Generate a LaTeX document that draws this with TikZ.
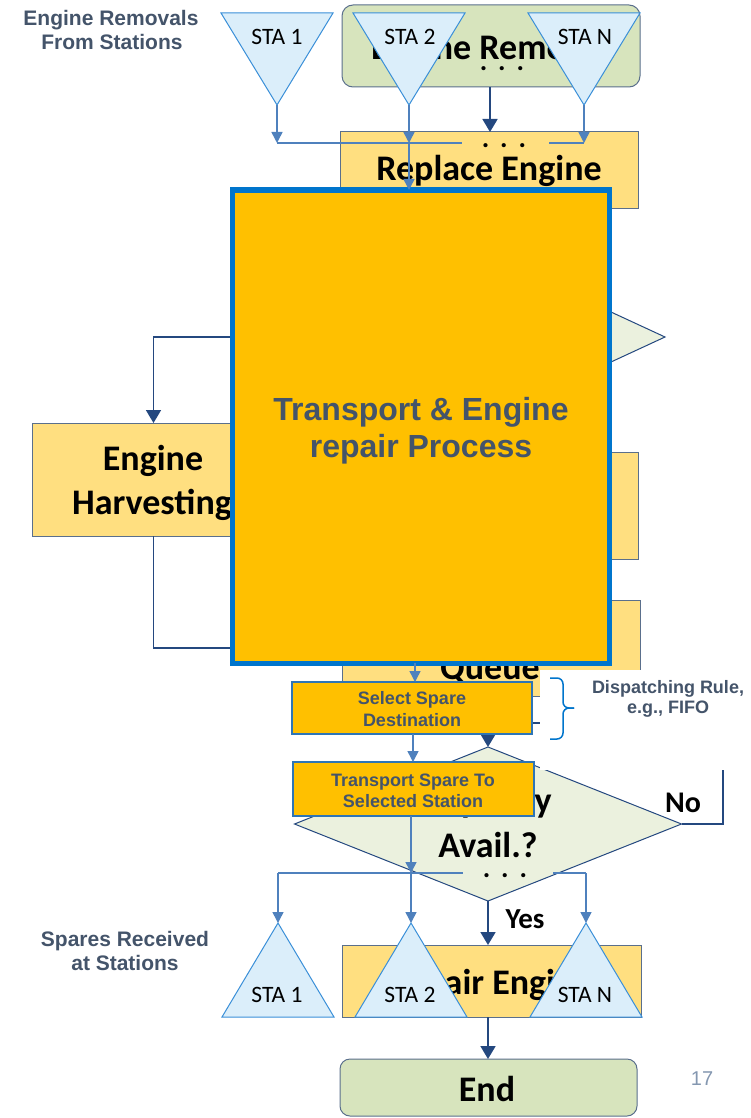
\documentclass[tikz,border=0pt]{standalone}
\usepackage{fontspec}
\setmainfont{Carlito}
\newfontfamily\arialfont{Liberation Sans}
\usetikzlibrary{arrows.meta,shapes.geometric}

\definecolor{paleolive}{HTML}{D7E4BD}
\definecolor{paleyellow}{HTML}{FFDF80}
\definecolor{amber}{HTML}{FFC000}
\definecolor{palemint}{HTML}{EBF1DE}
\definecolor{skyfill}{HTML}{DBEEFA}
\definecolor{skyedge}{HTML}{3A8FD8}
\definecolor{slateedge}{HTML}{5A6F8C}
\definecolor{navyline}{HTML}{24487F}
\definecolor{steelline}{HTML}{4F81BD}
\definecolor{strongblue}{HTML}{0075CC}
\definecolor{midblue}{HTML}{2E75B6}
\definecolor{captionslate}{HTML}{44546A}
\definecolor{pagegray}{HTML}{8497B0}

\begin{document}
\begin{tikzpicture}[x=1pt,y=-1pt,
  every node/.style={inner sep=0pt,outer sep=0pt},
  bigtext/.style={font=\fontsize{36}{44}\selectfont\bfseries,anchor=base},
  answertext/.style={font=\fontsize{30}{36}\selectfont\bfseries,anchor=base},
  stalabel/.style={font=\fontsize{23.5}{28}\selectfont,anchor=base},
  sidecaption/.style={font=\arialfont\fontsize{21}{25}\selectfont\bfseries,text=captionslate,anchor=base},
  processcaption/.style={font=\arialfont\fontsize{32}{38}\selectfont\bfseries,text=captionslate,anchor=base},
  stepcaption/.style={font=\arialfont\fontsize{18}{21}\selectfont\bfseries,text=captionslate,anchor=base},
  ellipsisdots/.style={font=\fontsize{28}{30}\selectfont\bfseries},
  yellowbox/.style={draw=slateedge,line width=1pt,fill=paleyellow},
  greenbox/.style={draw=slateedge,line width=1pt,fill=paleolive,rounded corners=11pt},
  decisionbox/.style={diamond,draw=navyline,line width=1pt,fill=palemint},
  amberbox/.style={draw=midblue,line width=1.2pt,fill=amber},
  stationtri/.style={draw=skyedge,fill=skyfill,line width=1pt,line join=miter},
  medconn/.style={draw=steelline,line width=1.5pt,-{Triangle[width=11pt,length=11pt]}},
  medline/.style={draw=steelline,line width=1.5pt},
  navyconn/.style={draw=navyline,line width=1.8pt,-{Triangle[width=15pt,length=13pt]}},
  navyplain/.style={draw=navyline,line width=1.5pt},
  bracestroke/.style={draw=strongblue,line width=1.5pt,rounded corners=6pt}
]
\useasboundingbox (0,0) rectangle (750,1118);

% ---------- start: engine removal ----------
\node[greenbox,minimum width=298pt,minimum height=82pt] (removal) at (491,46) {};
\node[bigtext] (removaltxt) at (490,60) {Engine Removal};
\node[ellipsisdots] (removaldots) at (502,69) {.\hspace{11pt}.\hspace{11pt}.};

% stations where engines are removed
\path[stationtri] (221,13) -- (333,13) -- (277,105) -- cycle;
\path[stationtri] (353,13) -- (465,13) -- (409,105) -- cycle;
\path[stationtri] (528,13) -- (640,13) -- (584,105) -- cycle;
\coordinate (ta1) at (277,105);
\coordinate (ta2) at (409,105);
\coordinate (ta3) at (584,105);
\node[stalabel] (tl1) at (277,45) {STA 1};
\node[stalabel] (tl2) at (410,45) {STA 2};
\node[stalabel] (tl3) at (585,45) {STA N};

% ---------- replace engine ----------
\node[yellowbox,minimum width=298pt,minimum height=76pt] (replace) at (489,170) {};
\node[bigtext] (replacetxt) at (489,181) {Replace Engine};
\coordinate (dropc) at (490,0);
\draw[navyconn] (removal.south -| dropc) -- (replace.north -| dropc);

% removal stations feed a common line
\coordinate (topbus) at (0,143);
\draw[medconn] (ta1) -- (ta1 |- topbus);
\draw[medconn] (ta2) -- (ta2 |- topbus);
\draw[medconn] (ta3) -- (ta3 |- topbus);
\draw[medline] (ta1 |- topbus) -- (462,143);
\draw[medline] (549,143) -- (ta3 |- topbus);
\node[ellipsisdots] (topbusdots) at (504,146) {.\hspace{11pt}.\hspace{11pt}.};

% ---------- middle of the flow ----------
\node[decisionbox,minimum width=350pt,minimum height=162pt] (firstcheck) at (490,337) {};
\node[yellowbox,minimum width=296pt,minimum height=107pt] (midstep) at (490,505.5) {};
\node[yellowbox,minimum width=298pt,minimum height=96pt] (queue) at (491,648) {};
\node[bigtext] (queuetxt) at (490,679) {Queue};

\node[yellowbox,minimum width=243pt,minimum height=113pt] (harvest) at (153.5,479.5) {};
\node[bigtext] (harvesttxta) at (153,470) {Engine};
\node[bigtext] (harvesttxtb) at (152,514) {Harvesting};
\draw[navyconn] (firstcheck.west) -| (harvest.north);
\draw[navyconn] (harvest.south) |- (queue.west);

% ---------- capacity decision ----------
\node[decisionbox,minimum width=387pt,minimum height=154pt] (capacity) at (488,824) {};
\node[bigtext] (capacitytxta) at (488,812) {Capacity};
\node[bigtext] (capacitytxtb) at (488,857) {Avail.?};
\node[answertext] (nolabel) at (683,812) {No};
\node[answertext,font=\fontsize{29}{34}\selectfont\bfseries] (yeslabel) at (525,928) {Yes};

\coordinate (noturn) at (723,723);
\coordinate (nojoin) at (488,723);
\draw[navyplain] (capacity.east) -| (noturn) -- (nojoin);
\draw[navyconn] (queue.south -| capacity.north) -- (capacity.north);

% dispatching note
\fill[white] (540,670) rectangle (750,770);
\draw[bracestroke] (550,678) -- (563,678) -- (563,708) -- (574,708);
\draw[bracestroke] (574,708) -- (563,708) -- (563,739) -- (550,739);
\node[stepcaption] (dispatcha) at (668,693) {Dispatching Rule,};
\node[stepcaption] (dispatchb) at (668,713) {e.g., FIFO};

% ---------- transport & repair process ----------
\node[draw=strongblue,line width=5pt,fill=amber,minimum width=377pt,minimum height=473pt] (process) at (420.5,426.5) {};
\node[processcaption] (processtxta) at (421,420) {Transport \& Engine};
\node[processcaption] (processtxtb) at (421,457) {repair Process};
\draw[medconn] (ta2 |- topbus) -- (process.north -| ta2);

\node[amberbox,minimum width=240pt,minimum height=52pt] (select) at (412,708) {};
\node[stepcaption] (selecttxta) at (412,704) {Select Spare};
\node[stepcaption] (selecttxtb) at (412,726) {Destination};

\node[amberbox,minimum width=241pt,minimum height=54pt] (transport) at (413.5,789) {};
\node[stepcaption] (transporttxta) at (413,786) {Transport Spare To};
\node[stepcaption] (transporttxtb) at (413,807) {Selected Station};

\coordinate (dropa) at (415,0);
\coordinate (dropb) at (413,0);
\draw[medconn] (process.south -| dropa) -- (select.north -| dropa);
\draw[medconn] (select.south -| dropb) -- (transport.north -| dropb);

% ---------- repair engine and end ----------
\node[yellowbox,minimum width=299pt,minimum height=72pt] (repair) at (491.5,981) {};
\node[bigtext] (repairtxt) at (490,994) {Repair Engine};
\draw[navyconn] (capacity.south) -- (capacity.south |- repair.north);

% stations that receive spares
\coordinate (ba1) at (278,923);
\coordinate (ba2) at (411,923);
\coordinate (ba3) at (586,923);
\coordinate (botbus) at (0,873);
\draw[medconn] (transport.south -| ba2) -- (ba2 |- botbus);
\draw[medline] (ba1 |- botbus) -- (463,873);
\draw[medline] (553,873) -- (ba3 |- botbus);
\draw[medconn] (ba1 |- botbus) -- (ba1);
\draw[medconn] (ba2 |- botbus) -- (ba2);
\draw[medconn] (ba3 |- botbus) -- (ba3);
\node[ellipsisdots] (botbusdots) at (505,876) {.\hspace{11pt}.\hspace{11pt}.};

\path[stationtri] (222,1017) -- (334,1017) -- (ba1) -- cycle;
\path[stationtri] (355,1017) -- (467,1017) -- (ba2) -- cycle;
\path[stationtri] (530,1017) -- (642,1017) -- (ba3) -- cycle;
\node[stalabel] (bl1) at (277,1002) {STA 1};
\node[stalabel] (bl2) at (410,1002) {STA 2};
\node[stalabel] (bl3) at (585,1002) {STA N};

\node[greenbox,rounded corners=10pt,minimum width=297pt,minimum height=57pt] (finish) at (488.5,1087.5) {};
\node[bigtext] (finishtxt) at (487,1101) {End};
\draw[navyconn] (capacity.south |- repair.south) -- (capacity.south |- finish.north);

% ---------- side captions ----------
\node[sidecaption] (removalcapa) at (111,26) {Engine Removals};
\node[sidecaption] (removalcapb) at (112,50) {From Stations};
\node[sidecaption] (receivecapa) at (125,946) {Spares Received};
\node[sidecaption] (receivecapb) at (125,970) {at Stations};
\node[font=\arialfont\fontsize{20}{24}\selectfont,text=pagegray,anchor=base] (pagenum) at (702,1085) {17};
\end{tikzpicture}
\end{document}
